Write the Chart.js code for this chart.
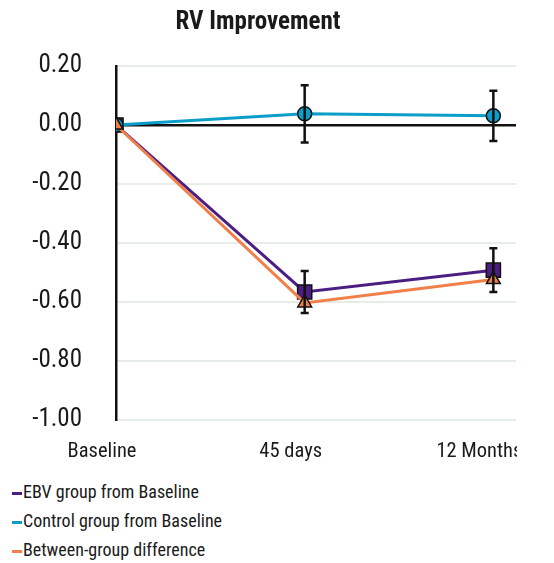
<!DOCTYPE html>
<html>
<head>
<meta charset="utf-8">
<script src="https://cdn.jsdelivr.net/npm/chart.js@4.4.1/dist/chart.umd.min.js"></script>
<style>
  body { margin: 0; background: #fff; font-family: "Roboto Condensed", "Liberation Sans", sans-serif; }
  .chart-wrap { width: 517px; height: 470px; overflow: hidden; position: relative; }
  .legend { margin: 7px 0 0 12px; color: #1a1a1a; font-size: 18px; }
  .legend div { height: 29px; line-height: 29px; }
  .legend span { display: inline-block; width: 10px; height: 3px; vertical-align: middle; margin-right: 1px; }
</style>
</head>
<body>
<div class="chart-wrap">
  <canvas id="rv" width="533" height="470"></canvas>
</div>
<div class="legend" id="legend"></div>
<script>
const timepoints = ['Baseline', '45 days', '12 Months'];
const yTicks = [0.2, 0, -0.2, -0.4, -0.6, -0.8, -1.0];

const ebvValues = [0, -0.566, -0.492];
const ebvErrors = [0, 0.071, 0.074];
const controlValues = [0, 0.038, 0.031];
const controlErrors = [0, 0.097, 0.085];
const diffValues = [0, -0.603, -0.524];

const textColor = '#1a1a1a';
const font = '"Roboto Condensed", "Liberation Sans", sans-serif';

function toPoints(values){
  return values.map((v, i) => ({x: i, y: v}));
}

//draws the whiskers for datasets that carry an errors array
const errorBars = {
  id: 'errorBars',
  afterDatasetsDraw(chart) {
    const {ctx, scales: {x, y}} = chart;
    ctx.save();
    ctx.strokeStyle = '#111';
    ctx.lineWidth = 2.5;
    chart.data.datasets.forEach((ds) => {
      if (!ds.errors) return;
      ds.data.forEach((p, i) => {
        const e = ds.errors[i];
        if (!e) return;
        const px = x.getPixelForValue(p.x);
        const top = y.getPixelForValue(p.y + e);
        const bot = y.getPixelForValue(p.y - e);
        ctx.beginPath();
        ctx.moveTo(px, top); ctx.lineTo(px, bot);
        ctx.moveTo(px - 4, top); ctx.lineTo(px + 4, top);
        ctx.moveTo(px - 4, bot); ctx.lineTo(px + 4, bot);
        ctx.stroke();
      });
    });
    ctx.restore();
  }
};

const chart = new Chart(document.getElementById('rv'), {
  type: 'line',
  data: {
    datasets: [{
      label: 'EBV group from Baseline',
      data: toPoints(ebvValues),
      errors: ebvErrors,
      borderColor: '#4b1e82',
      backgroundColor: '#4b1e82',
      borderWidth: 3,
      pointStyle: 'rect',
      pointRadius: 10,
      pointBorderColor: '#111',
      pointBorderWidth: 1.5,
      order: 3
    }, {
      label: 'Control group from Baseline',
      data: toPoints(controlValues),
      errors: controlErrors,
      borderColor: '#0a9ec8',
      backgroundColor: '#0a9ec8',
      borderWidth: 3,
      pointStyle: 'circle',
      pointRadius: 7,
      pointBorderColor: '#111',
      pointBorderWidth: 1.5,
      order: 2
    }, {
      label: 'Between-group difference',
      data: toPoints(diffValues),
      borderColor: '#f07f4a',
      backgroundColor: '#f07f4a',
      borderWidth: 3,
      pointStyle: 'triangle',
      pointRadius: 8,
      pointBorderColor: '#111',
      pointBorderWidth: 1.5,
      order: 1
    }]
  },
  options: {
    responsive: false,
    animation: false,
    layout: { padding: { left: 0, right: 17, top: 0, bottom: 0 } },
    scales: {
      x: {
        type: 'linear',
        min: 0,
        max: 2.12,
        grid: { display: false },
        border: { display: false },
        afterFit: (s) => { s.height = 50; },
        afterBuildTicks: (s) => { s.ticks = [0, 1, 2, 2.12].map(v => ({value: v})); },
        ticks: {
          autoSkip: false,
          maxRotation: 0,
          padding: 12,
          labelOffset: -14,
          color: textColor,
          font: { family: font, size: 20.5 },
          callback: (value) => Number.isInteger(value) ? timepoints[value] : ''
        }
      },
      y: {
        min: -1,
        max: 0.2,
        afterFit: (s) => { s.width = 116; },
        afterBuildTicks: (s) => { s.ticks = yTicks.map(v => ({value: v})); },
        grid: {
          drawTicks: false,
          color: (c) => c.tick && c.tick.value === 0 ? '#111' : '#e6ede8',
          lineWidth: (c) => c.tick && c.tick.value === 0 ? 2.5 : 2
        },
        border: { display: true, color: '#111', width: 2.5 },
        ticks: {
          padding: 34,
          color: textColor,
          font: { family: font, size: 25 },
          callback: (value) => value.toFixed(2)
        }
      }
    },
    plugins: {
      legend: { display: false },
      tooltip: { enabled: false },
      title: {
        display: true,
        text: 'RV Improvement',
        color: textColor,
        font: { family: font, size: 25, weight: 'bold' },
        padding: { top: 8, bottom: 28 }
      }
    }
  },
  plugins: [errorBars]
});

//legend below the chart, one entry per row
const legendBox = document.getElementById('legend');
chart.data.datasets.forEach((ds) => {
  const row = document.createElement('div');
  const mark = document.createElement('span');
  mark.style.background = ds.borderColor;
  row.appendChild(mark);
  row.appendChild(document.createTextNode(ds.label));
  legendBox.appendChild(row);
});
</script>
</body>
</html>
